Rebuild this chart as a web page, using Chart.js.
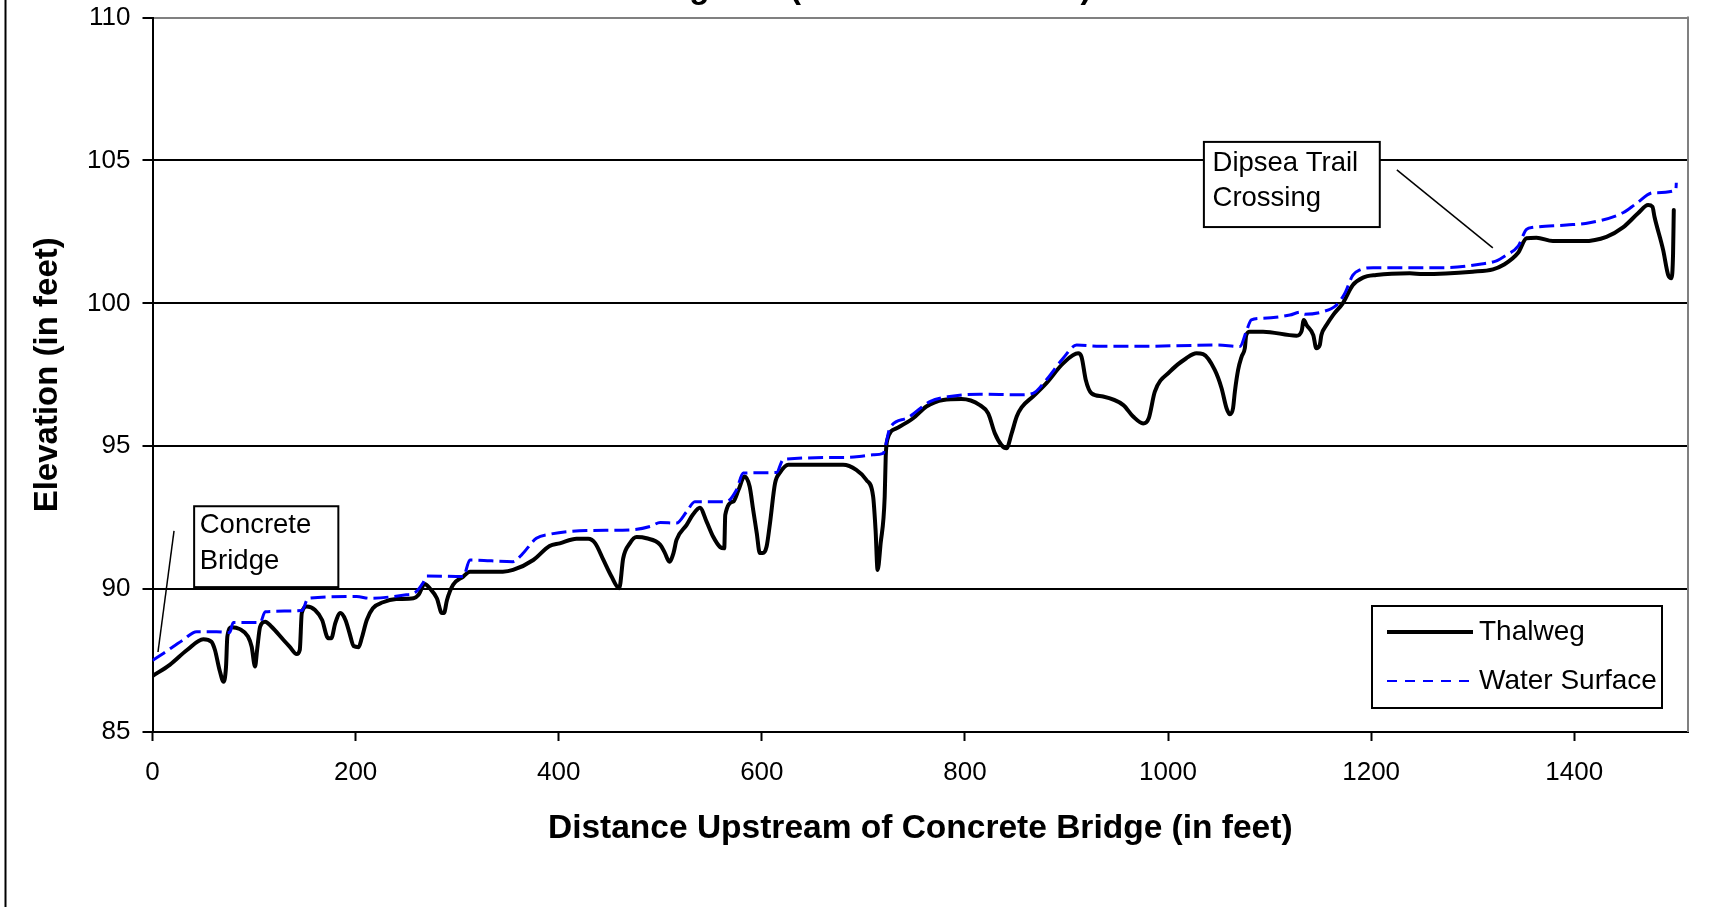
<!DOCTYPE html>
<html>
<head>
<meta charset="utf-8">
<script src="https://cdn.jsdelivr.net/npm/chart.js@4.4.1/dist/chart.umd.min.js"></script>
<style>
html,body{margin:0;padding:0;background:#fff;overflow:hidden}
#wrap{position:relative;width:1721px;height:907px}
</style>
</head>
<body>
<div id="wrap"><canvas id="c" width="1721" height="907"></canvas></div>
<script>
// ---------------- DATA ----------------
const seriesNames = ['Thalweg', 'Water Surface'];

const thalwegDist = [0,17,34,50,58,61.5,66,70,72.4,73.7,78,86,94,97.6,101,103,106,111,117,129,135,142,145,147,152,160,167,173,176,180,185,190,194,198,203,206,211,217,227,240,257,262,268,273,280,285,287,290,296,306,
 312.6,345,355,375,391,401,417.6,429,436,444,452,459.6,463.5,470,476.7,486.5,500,504.6,509,513,516,526,532,539,545.6,552,559,563,564,572,577,583,588,591.5,595,598,601,604.7,608,613,618,626,
 680,693,703,709.6,712,714,717,721,722,723.5,732.7,749,762,778.6,796.7,814.7,822.9,829.5,836,841,846,851,855.8,867,880,896.7,911.5,914.8,919,924.7,
 936,956,965.6,975.5,981,987,1001.8,1018,1028,1034.5,1046,1052.7,1057.6,1061,1064,1065.8,1069,1072.4,1075.6,1077,1080.5,1093.6,1126.5,1131.5,1133.7,1136.4,1143,1146,1149.4,1151,1156,1162.5,1172,1182,1192,1205,1238,
 1251,1300,1320,1330,1344.7,1353,1362.8,1379,1408.7,1431.7,1448,1462.8,1472.7,1477,1479,1487.5,1492.5,1495.8,1497.3,1498];

const thalwegElev = [86.96,87.35,87.87,88.25,88.16,87.87,87.17,86.76,87.29,88.34,88.67,88.6,88.34,87.99,87.29,87.87,88.69,88.86,88.69,88.22,87.99,87.73,87.87,89.16,89.39,89.27,88.92,88.28,88.28,88.81,89.16,88.92,88.46,88.01,87.97,88.28,88.92,89.33,89.54,89.65,89.68,89.8,90.18,90.03,89.68,89.16,89.16,89.62,90.15,90.44,
 90.61,90.61,90.67,91.02,91.51,91.6,91.76,91.76,91.6,91.02,90.44,90.03,91.08,91.6,91.82,91.78,91.55,91.26,90.96,91.26,91.72,92.25,92.6,92.85,92.36,91.84,91.47,91.43,92.6,93.07,93.47,93.94,93.59,92.77,91.96,91.26,91.26,91.49,92.3,93.7,94.08,94.35,
 94.35,94.17,93.82,93.24,92.07,90.67,91.6,93.24,94.64,95.22,95.63,95.98,96.39,96.62,96.65,96.44,96.15,95.45,95.04,94.93,95.45,96.04,96.36,96.74,97.2,97.9,98.25,98.13,97.32,96.85,
 96.74,96.44,96.04,95.8,95.98,96.91,97.61,98.08,98.25,98.22,97.67,97.03,96.33,96.12,96.33,96.91,97.67,98.13,98.43,98.89,99.01,99.01,98.87,99.03,99.42,99.24,98.89,98.43,98.54,98.89,99.24,99.59,100.0,100.64,100.9,100.99,101.05,
 101.03,101.11,101.19,101.34,101.77,102.28,102.3,102.18,102.18,102.33,102.66,103.15,103.44,103.38,103.03,101.87,100.99,100.88,101.75,103.27];

const waterDist = [0,11,30,43.5,63,76,79.5,106,111,147,153.4,201,214,250,258,266.6,270,306,312.6,355,363.5,378,391,427.5,470,490,500,516,526,534,565,575,581.7,614.5,619.5,621,683.5,700,709.6,719.5,722,726,742.5,765.5,785,814.7,854,867,880,896.7,910,933,975.5,1048,1070.7,1077,1082,1093.6,1120,1130,1134.7,1152.7,1165.8,1174,1182,1188.8,1202,1231.5,1274.3,1307,1323.4,1333,1344.7,1353,1359.5,1392.3,1415,1448,1461.4,1477.7,1500,1500.5];

const waterElev = [87.5,87.76,88.22,88.51,88.51,88.48,88.83,88.83,89.21,89.25,89.68,89.74,89.68,89.8,89.86,90.23,90.46,90.44,91.02,90.96,91.2,91.78,91.92,92.05,92.07,92.19,92.33,92.31,92.71,93.06,93.06,93.47,94.06,94.08,94.46,94.54,94.61,94.66,94.7,94.75,95.05,95.63,95.98,96.56,96.74,96.82,96.8,96.85,97.32,98.08,98.54,98.5,98.5,98.54,98.49,99.01,99.42,99.48,99.59,99.69,99.62,99.71,99.94,100.35,100.99,101.17,101.25,101.25,101.25,101.37,101.49,101.69,102.0,102.59,102.66,102.74,102.82,103.17,103.5,103.87,103.96,104.22];

const xTicks = [0,200,400,600,800,1000,1200,1400];
const xTickLabels = ['0','200','400','600','800','1000','1200','1400'];
const yTicks = [85,90,95,100,105,110];
const yTickLabels = ['85','90','95','100','105','110'];

const chartTitle = 'Thalweg Plot (Water Year 2005/6)';
const xTitle = 'Distance Upstream of Concrete Bridge (in feet)';
const yTitle = 'Elevation (in feet)';
const noteBridge = ['Concrete', 'Bridge'];
const noteDipsea = ['Dipsea Trail', 'Crossing'];

// ---------------- CHART ----------------
const FONT = "'Liberation Sans', Arial, Helvetica, sans-serif";
const toPts = (xs, ys) => xs.map((x, i) => ({x: x, y: ys[i]}));

const decor = {
  id: 'decor',
  afterDraw(chart) {
    const ctx = chart.ctx;
    const ca = chart.chartArea;
    const xs = chart.scales.x, ys = chart.scales.y;
    const X = v => xs.getPixelForValue(v), Y = v => ys.getPixelForValue(v);
    ctx.save();
    // right border of plot area (gray)
    ctx.strokeStyle = '#808080';
    ctx.lineWidth = 2;
    ctx.beginPath();
    ctx.moveTo(ca.right, ca.top - 1);
    ctx.lineTo(ca.right, ca.bottom);
    ctx.stroke();
    // outer chart frame, left edge
    ctx.strokeStyle = '#000';
    ctx.lineWidth = 2;
    ctx.beginPath();
    ctx.moveTo(5.5, 0);
    ctx.lineTo(5.5, chart.height);
    ctx.stroke();
    // clipped title (only its descenders show at the top edge)
    ctx.fillStyle = '#000';
    ctx.font = 'bold 33px ' + FONT;
    ctx.textAlign = 'left';
    ctx.textBaseline = 'alphabetic';
    const pre = chartTitle.slice(0, chartTitle.indexOf('('));
    ctx.fillText(chartTitle, 790 - ctx.measureText(pre).width, -2);

    function note(lines, box, textX, lineYs, from, to) {
      ctx.lineWidth = 1.5;
      ctx.strokeStyle = '#000';
      ctx.beginPath();
      ctx.moveTo(X(from[0]), Y(from[1]));
      ctx.lineTo(X(to[0]), Y(to[1]));
      ctx.stroke();
      const l = X(box[0]), r = X(box[1]), t = Y(box[2]), b = Y(box[3]);
      ctx.fillStyle = '#fff';
      ctx.fillRect(l, t, r - l, b - t);
      ctx.lineWidth = 2;
      ctx.strokeRect(l, t, r - l, b - t);
      ctx.fillStyle = '#000';
      ctx.font = '27.5px ' + FONT;
      ctx.textAlign = 'left';
      ctx.textBaseline = 'middle';
      lines.forEach((s, i) => ctx.fillText(s, X(textX), Y(lineYs[i])));
    }
    note(noteBridge, [41, 183, 92.9, 90.07], 46.5, [92.22, 90.96], [21.2, 92.04], [5.4, 87.8]);
    note(noteDipsea, [1035.3, 1208.5, 105.65, 102.67], 1043.8, [104.9, 103.68], [1225.3, 104.67], [1319.8, 101.94]);

    // legend
    const lr = ca.right - 26, lb = ca.bottom - 24;
    const lw = 290, lh = 102;
    const ll = lr - lw, lt = lb - lh;
    ctx.fillStyle = '#fff';
    ctx.fillRect(ll, lt, lw, lh);
    ctx.strokeStyle = '#000';
    ctx.lineWidth = 2;
    ctx.strokeRect(ll, lt, lw, lh);
    const ds = chart.data.datasets;
    const rowY = [lt + 26, lt + 75];
    [0, 1].forEach(i => {
      const d = ds[i];
      ctx.strokeStyle = d.borderColor;
      ctx.lineWidth = i === 0 ? 4 : 2;
      ctx.setLineDash(i === 0 ? [] : [10, 8]);
      ctx.beginPath();
      ctx.moveTo(ll + 15, rowY[i]);
      ctx.lineTo(ll + 101, rowY[i]);
      ctx.stroke();
      ctx.setLineDash([]);
      ctx.fillStyle = '#000';
      ctx.font = '28px ' + FONT;
      ctx.textAlign = 'left';
      ctx.textBaseline = 'middle';
      ctx.fillText(d.label, ll + 107, rowY[i]);
    });
    ctx.restore();
  }
};

new Chart(document.getElementById('c'), {
  type: 'scatter',
  data: {
    datasets: [
      {
        label: seriesNames[0],
        data: toPts(thalwegDist, thalwegElev),
        showLine: true,
        borderColor: '#000000',
        backgroundColor: '#000000',
        borderWidth: 4,
        pointRadius: 0,
        cubicInterpolationMode: 'monotone',
        borderJoinStyle: 'round',
        borderCapStyle: 'round',
        order: 1
      },
      {
        label: seriesNames[1],
        data: toPts(waterDist, waterElev),
        showLine: true,
        borderColor: '#0000FF',
        backgroundColor: '#0000FF',
        borderWidth: 3,
        borderDash: [15, 6],
        pointRadius: 0,
        cubicInterpolationMode: 'monotone',
        order: 0
      }
    ]
  },
  options: {
    responsive: false,
    animation: false,
    devicePixelRatio: 1,
    layout: { padding: { left: 6, top: 17.6, right: 33, bottom: 58.2 } },
    plugins: { legend: { display: false }, tooltip: { enabled: false }, title: { display: false } },
    scales: {
      x: {
        type: 'linear',
        min: 0,
        max: 1512,
        afterFit: s => { s.height = 116.8; s.paddingLeft = 0; s.paddingRight = 0; },
        afterBuildTicks: s => { s.ticks = xTicks.map(v => ({ value: v })); },
        ticks: {
          includeBounds: false,
          autoSkip: false,
          maxRotation: 0,
          padding: 16,
          color: '#000',
          font: { family: FONT, size: 26 },
          callback: v => { const i = xTicks.indexOf(v); return i >= 0 ? xTickLabels[i] : ''; }
        },
        grid: { drawOnChartArea: false, drawTicks: true, tickLength: 9, tickColor: '#000', tickWidth: 2 },
        border: { display: true, color: '#000', width: 2 },
        title: { display: true, text: xTitle, color: '#000', font: { family: FONT, size: 33.5, weight: 'bold' }, padding: { top: 0, bottom: 0 } }
      },
      y: {
        type: 'linear',
        min: 85,
        max: 110,
        afterFit: s => { s.width = 146.5; s.paddingTop = 0; s.paddingBottom = 0; },
        afterBuildTicks: s => { s.ticks = yTicks.map(v => ({ value: v })); },
        ticks: {
          padding: 12,
          color: '#000',
          font: { family: FONT, size: 26 },
          callback: v => { const i = yTicks.indexOf(v); return i >= 0 ? yTickLabels[i] : ''; }
        },
        grid: {
          color: c => (c.tick && c.tick.value === 110) ? '#808080' : '#000000',
          lineWidth: 2,
          drawTicks: true,
          tickLength: 10,
          tickColor: '#000',
          tickWidth: 2
        },
        border: { display: true, color: '#000', width: 2 },
        title: { display: true, text: yTitle, color: '#000', font: { family: FONT, size: 33, weight: 'bold' }, padding: { top: 22, bottom: 0 } }
      }
    }
  },
  plugins: [decor]
});
</script>
</body>
</html>
